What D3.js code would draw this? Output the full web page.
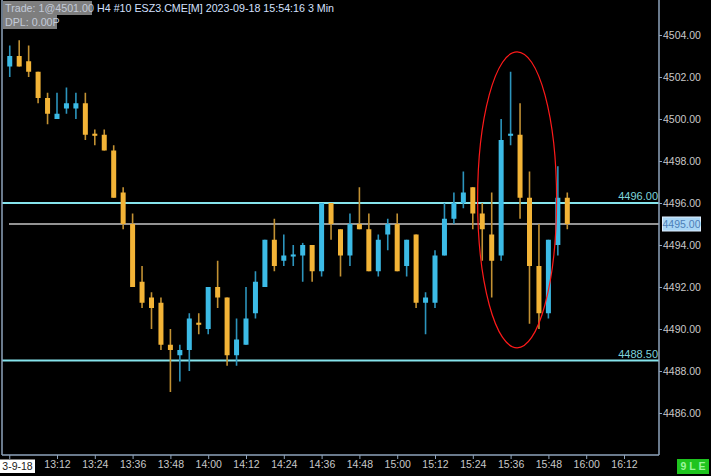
<!DOCTYPE html>
<html><head><meta charset="utf-8">
<script src="https://cdn.jsdelivr.net/npm/d3@7"></script>
<style>html,body{margin:0;padding:0;background:#000;}svg{display:block;}</style>
</head><body>
<svg id="c" width="711" height="476"></svg>
<script>
// ---- data ----
const startTime = "2023-09-18 12:57";
const opens  = [4502.5,4503.0,4502.75,4502.25,4501.0,4500.0,4500.5,4500.5,4500.75,4499.3,
                4499.25,4498.5,4496.5,4495.0,4492.25,4491.5,4491.25,4489.25,4488.75,4489.0,
                4490.3,4490.0,4492.0,4491.5,4488.75,4489.25,4490.75,4492.0,4494.25,4493.25,
                4493.45,4493.5,4494.0,4492.75,4496.0,4494.75,4493.5,4495.0,4494.75,4492.75,
                4494.5,4495.0,4493.0,4494.5,4491.25,4491.25,4493.5,4495.25,4496.0,4496.75,
                4495.5,4494.5,4493.5,4499.2,4499.25,4496.25,4493.0,4490.75,4494.0,4496.25];
const highs  = [4503.5,4503.75,4503.5,4502.25,4501.25,4501.25,4501.5,4501.25,4501.25,4499.5,
                4499.5,4498.75,4496.75,4495.5,4493.0,4491.75,4491.5,4490.0,4489.25,4490.75,
                4490.75,4492.0,4493.25,4491.5,4490.5,4492.0,4492.75,4494.25,4495.25,4494.5,
                4494.0,4494.1,4494.0,4496.0,4496.0,4494.75,4495.5,4496.75,4495.5,4494.5,
                4495.25,4495.5,4494.25,4494.5,4491.75,4493.75,4496.0,4496.5,4497.5,4496.75,
                4496.0,4496.5,4500.0,4502.25,4500.75,4497.5,4495.0,4494.25,4497.75,4496.5];
const lows   = [4502.0,4502.5,4502.0,4500.75,4499.75,4500.0,4500.25,4500.0,4499.0,4498.75,
                4498.5,4496.25,4494.75,4492.0,4491.0,4490.0,4489.0,4487.0,4487.5,4488.0,
                4489.75,4489.75,4491.0,4488.25,4488.25,4489.25,4490.5,4492.0,4492.75,4493.0,
                4493.0,4492.25,4492.25,4492.5,4494.25,4492.5,4493.0,4494.75,4492.75,4492.5,
                4493.75,4492.75,4492.5,4491.0,4489.75,4491.0,4493.5,4495.0,4495.75,4494.75,
                4493.25,4491.5,4493.25,4498.75,4495.25,4490.25,4490.0,4490.5,4493.5,4494.75];
const closes = [4503.0,4502.5,4502.25,4501.0,4500.25,4500.25,4500.75,4500.75,4499.25,4499.2,
                4498.5,4496.25,4495.0,4492.0,4491.25,4491.0,4489.25,4489.0,4489.0,4490.5,
                4490.2,4492.0,4491.5,4488.75,4489.5,4490.5,4492.25,4494.25,4493.0,4493.5,
                4493.55,4494.0,4492.75,4496.0,4495.0,4493.5,4495.0,4494.75,4492.75,4494.25,
                4495.0,4492.75,4494.25,4491.25,4491.5,4493.5,4495.25,4496.0,4496.5,4495.5,
                4494.75,4493.25,4499.0,4499.3,4496.25,4493.0,4490.75,4494.25,4496.25,4495.0];
const priceTicks = [4486,4488,4490,4492,4494,4496,4498,4500,4502,4504];
const timeTickLabels = ["13:12","13:24","13:36","13:48","14:00","14:12","14:24","14:36",
                        "14:48","15:00","15:12","15:24","15:36","15:48","16:00","16:12"];
const dateLabel = "3-9-18";
const levelLines = [4496.00, 4488.50];
const lastPrice = 4495.00;
const headerTrade = "Trade: 1@4501.00";
const headerInfo = "H4 #10 ESZ3.CME[M] 2023-09-18 15:54:16 3 Min";
const headerDpl = "DPL: 0.00P";
const statusText = "9 L E";

// ---- setup ----
const parse = d3.timeParse("%Y-%m-%d %H:%M");
const t0 = parse(startTime);
const times = opens.map((_, i) => d3.timeMinute.offset(t0, 3 * i));
const candles = opens.map((o, i) => ({t: times[i], o, h: highs[i], l: lows[i], c: closes[i]}));

const svg = d3.select("#c");
const W = 711, H = 476;
const plotL = 2, plotR = 659, plotB = 455;
svg.append("rect").attr("width", W).attr("height", H).attr("fill", "#000");

const x = d3.scaleTime().domain([times[0], times[times.length - 1]]).range([9.75, 9.75 + 59 * 9.45]);
const y = d3.scaleLinear().domain([4486, 4504]).range([413, 35]);

const font = "'Liberation Sans', Arial, sans-serif";

// level lines
svg.append("line").attr("x1", 9).attr("x2", plotR).attr("y1", y(lastPrice)).attr("y2", y(lastPrice))
  .attr("stroke", "#c4c4c4").attr("stroke-width", 1.6);
levelLines.forEach(v => {
  svg.append("line").attr("x1", plotL).attr("x2", plotR).attr("y1", y(v)).attr("y2", y(v))
    .attr("stroke", "#86e4ec").attr("stroke-width", 2);
  svg.append("text").attr("x", plotR - 1).attr("y", y(v) - 3).attr("text-anchor", "end")
    .attr("font-family", font).attr("font-size", 11).attr("fill", "#7ed4dc").text(v.toFixed(2));
});

// candles
const up = "#3cbbe6", down = "#f3b437";
const upW = "#2c94bc", downW = "#c29133";
const g = svg.append("g");
g.selectAll("line.wick").data(candles).join("line").attr("class", "wick")
  .attr("x1", d => x(d.t)).attr("x2", d => x(d.t))
  .attr("y1", d => y(d.h)).attr("y2", d => y(d.l))
  .attr("stroke", d => d.c >= d.o ? upW : downW).attr("stroke-width", 1.6);
g.selectAll("rect.body").data(candles).join("rect").attr("class", "body")
  .attr("x", d => x(d.t) - 2.5).attr("width", 5)
  .attr("y", d => y(Math.max(d.o, d.c)))
  .attr("height", d => Math.max(1.5, Math.abs(y(d.o) - y(d.c))))
  .attr("fill", d => d.c >= d.o ? up : down);

// red ellipse
svg.append("ellipse").attr("cx", x(times[53]) + 6.5).attr("cy", y(4496.15))
  .attr("rx", 39.5).attr("ry", 148).attr("fill", "none").attr("stroke", "#ff1a1a").attr("stroke-width", 1.2);

// frame
const frameColor = "#8ea3bb";
svg.append("line").attr("x1", plotL).attr("x2", plotL).attr("y1", 0).attr("y2", plotB).attr("stroke", frameColor).attr("stroke-width", 1.5);
svg.append("line").attr("x1", plotR).attr("x2", plotR).attr("y1", 0).attr("y2", plotB).attr("stroke", frameColor).attr("stroke-width", 1.5);
svg.append("line").attr("x1", plotL).attr("x2", plotR).attr("y1", plotB).attr("y2", plotB).attr("stroke", frameColor).attr("stroke-width", 1.5);

// right axis
const ra = svg.append("g").attr("transform", `translate(${plotR},0)`)
  .call(d3.axisRight(y).tickValues(priceTicks).tickFormat(d => d.toFixed(2)).tickSize(3).tickPadding(1));
ra.select(".domain").remove();
ra.selectAll(".tick line").attr("stroke", frameColor);
ra.selectAll(".tick text").attr("fill", "#c9c9c9").attr("font-family", font).attr("font-size", 10.5);

// last price label
const lp = svg.append("g");
lp.append("rect").attr("x", 662.5).attr("y", y(lastPrice) - 7).attr("width", 38).attr("height", 14)
  .attr("fill", "#a9d6f5").attr("stroke", "#dfefff").attr("stroke-width", 1);
lp.append("text").attr("x", 681.5).attr("y", y(lastPrice)).attr("dy", "0.35em").attr("text-anchor", "middle")
  .attr("font-family", font).attr("font-size", 10.5).attr("fill", "#4c7fb8").text(lastPrice.toFixed(2));

// bottom axis
const fmt = d3.timeFormat("%H:%M");
const tickDates = timeTickLabels.map(s => parse("2023-09-18 " + s));
const ba = svg.append("g").attr("transform", `translate(0,${plotB})`)
  .call(d3.axisBottom(x).tickValues(tickDates).tickFormat(fmt).tickSize(4).tickPadding(2));
ba.select(".domain").remove();
ba.selectAll(".tick line").attr("stroke", frameColor);
ba.selectAll(".tick text").attr("fill", "#c9c9c9").attr("font-family", font).attr("font-size", 10.5);
// first tick with date label
svg.append("line").attr("x1", x(times[0])).attr("x2", x(times[0])).attr("y1", plotB).attr("y2", plotB + 4).attr("stroke", frameColor);
svg.append("rect").attr("x", 0).attr("y", 459.5).attr("width", 35).attr("height", 13.5).attr("fill", "#ffffff");
svg.append("text").attr("x", 17.5).attr("y", 466.5).attr("dy", "0.35em").attr("text-anchor", "middle")
  .attr("font-family", font).attr("font-size", 10.5).attr("fill", "#222").text(dateLabel);

// status box
svg.append("rect").attr("x", 677).attr("y", 459).attr("width", 32).attr("height", 15).attr("fill", "#1fc41f");
svg.append("text").attr("x", 693).attr("y", 466.5).attr("dy", "0.35em").attr("text-anchor", "middle")
  .attr("font-family", font).attr("font-size", 10.5).attr("font-weight", "bold").attr("fill", "#9bf59b").text(statusText);

// header
svg.append("rect").attr("x", 3).attr("y", 1).attr("width", 89).attr("height", 14).attr("fill", "#7e7e7e");
svg.append("rect").attr("x", 3).attr("y", 15).attr("width", 54).attr("height", 14).attr("fill", "#7e7e7e");
svg.append("text").attr("x", 5).attr("y", 12).attr("font-family", font).attr("font-size", 10.7)
  .attr("fill", "#c3cad8").text(headerTrade);
svg.append("text").attr("x", 97).attr("y", 12).attr("font-family", font).attr("font-size", 10.7)
  .attr("fill", "#d4e0ff").text(headerInfo);
svg.append("text").attr("x", 5).attr("y", 26).attr("font-family", font).attr("font-size", 10.7)
  .attr("fill", "#c3cad8").text(headerDpl);
</script>
</body></html>
